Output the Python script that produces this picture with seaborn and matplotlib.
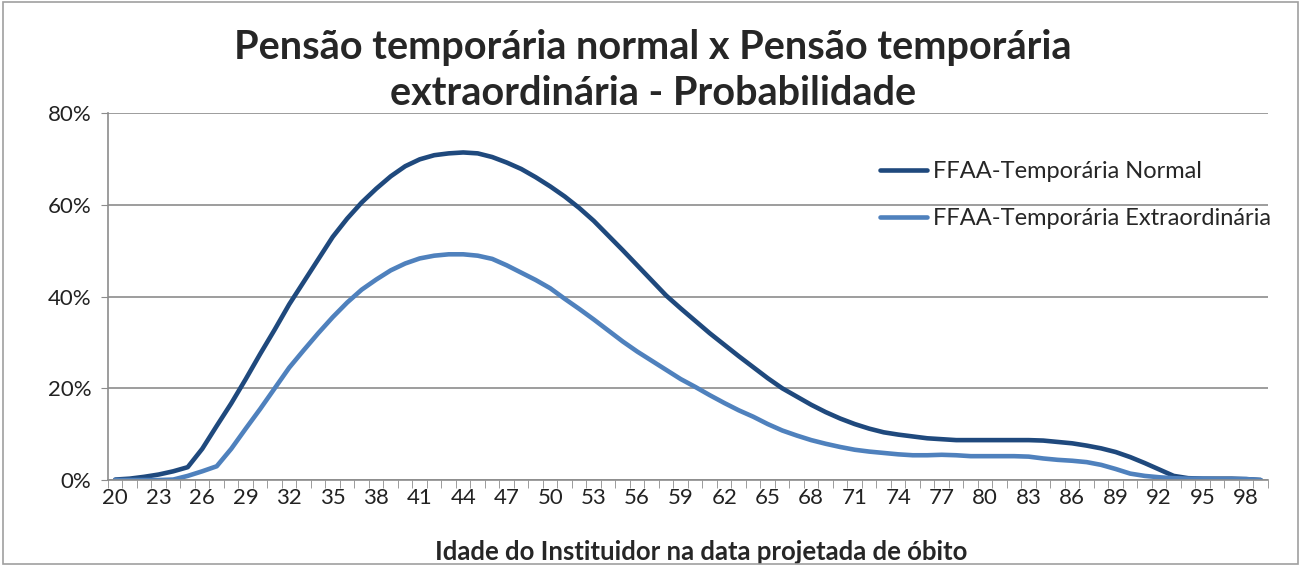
"""
Pensão temporária normal x extraordinária - probability curve by age of death.
"""

import numpy as np
import pandas as pd
import matplotlib
matplotlib.use("Agg")
import matplotlib.pyplot as plt
from matplotlib.patches import Rectangle
from matplotlib.ticker import FuncFormatter
import seaborn as sns

# ─────────────────────────────────────────────
# Data (in %)
# ─────────────────────────────────────────────

ages = list(range(20, 100))

normal = [
    0.1, 0.3, 0.7, 1.2, 1.9, 2.8, 6.8, 11.8, 16.7, 22.0,      # 20-29
    27.5, 32.8, 38.3, 43.2, 48.1, 53.0, 57.0, 60.5, 63.5, 66.2,  # 30-39
    68.4, 69.9, 70.8, 71.2, 71.4, 71.2, 70.4, 69.2, 67.8, 66.0,  # 40-49
    64.0, 61.8, 59.3, 56.5, 53.3, 50.1, 46.8, 43.5, 40.2, 37.4,  # 50-59
    34.7, 32.0, 29.5, 27.0, 24.6, 22.2, 20.0, 18.2, 16.4, 14.8,  # 60-69
    13.4, 12.2, 11.2, 10.4, 9.9, 9.5, 9.1, 8.9, 8.7, 8.7,        # 70-79
    8.7, 8.7, 8.7, 8.7, 8.6, 8.3, 8.0, 7.5, 6.9, 6.1,            # 80-89
    5.0, 3.7, 2.3, 0.9, 0.4, 0.3, 0.3, 0.3, 0.2, 0.0,            # 90-99
]

extra = [
    0.0, 0.0, 0.0, 0.0, 0.1, 0.9, 1.9, 3.0, 6.8, 11.2,           # 20-29
    15.5, 20.0, 24.5, 28.3, 32.0, 35.5, 38.7, 41.5, 43.7, 45.7,  # 30-39
    47.2, 48.3, 48.9, 49.2, 49.2, 48.9, 48.2, 46.8, 45.2, 43.6,  # 40-49
    41.8, 39.5, 37.3, 35.0, 32.6, 30.2, 28.0, 26.0, 24.0, 22.0,  # 50-59
    20.3, 18.5, 16.8, 15.2, 13.8, 12.2, 10.8, 9.7, 8.7, 7.9,     # 60-69
    7.2, 6.6, 6.2, 5.9, 5.6, 5.4, 5.4, 5.5, 5.4, 5.2,            # 70-79
    5.2, 5.2, 5.2, 5.1, 4.7, 4.4, 4.2, 3.9, 3.3, 2.4,            # 80-89
    1.4, 0.9, 0.6, 0.4, 0.3, 0.3, 0.2, 0.2, 0.2, 0.0,            # 90-99
]

series_names = ["FFAA-Temporária Normal", "FFAA-Temporária Extraordinária"]
colors = ["#1F497D", "#4F81BD"]

x_tick_ages = list(range(20, 100, 3))
y_ticks = [0, 20, 40, 60, 80]

title = "Pensão temporária normal x Pensão temporária\nextraordinária - Probabilidade"
x_label = "Idade do Instituidor na data projetada de óbito"

# ─────────────────────────────────────────────
# Plot
# ─────────────────────────────────────────────

sns.set_style("white")
plt.rcParams["font.family"] = ["Lato", "DejaVu Sans"]

df = pd.DataFrame({
    "idade": ages * 2,
    "valor": normal + extra,
    "serie": [series_names[0]] * len(ages) + [series_names[1]] * len(ages),
})

fig = plt.figure(figsize=(13.01, 5.65), dpi=100)
ax = fig.add_axes([0.083, 0.1504, 0.8916, 0.6496])

sns.lineplot(data=df, x="idade", y="valor", hue="serie",
             palette=dict(zip(series_names, colors)), linewidth=3.3,
             solid_capstyle="round", ax=ax)

ax.set_xlim(19.5, 99.5)
ax.set_ylim(0, 80)

grid_c = "#8C8C8C"
ax.set_yticks(y_ticks)
ax.yaxis.set_major_formatter(FuncFormatter(lambda v, _: f"{v:.0f}%"))
ax.yaxis.grid(True, color=grid_c, linewidth=1.2)
ax.set_axisbelow(True)
ax.tick_params(axis="y", length=5, color=grid_c, labelsize=16,
               labelcolor="#222222", pad=7, left=True)

ax.set_xticks(x_tick_ages)
ax.set_xticks(np.arange(19.5, 100, 1), minor=True)
ax.tick_params(axis="x", which="major", length=0, labelsize=16,
               labelcolor="#222222", pad=6)
ax.tick_params(axis="x", which="minor", length=6, color=grid_c, bottom=True)

for side in ["top", "right"]:
    ax.spines[side].set_visible(False)
for side in ["left", "bottom"]:
    ax.spines[side].set_color(grid_c)
    ax.spines[side].set_linewidth(1.2)

ax.set_xlabel(x_label, fontsize=18.5, fontweight="bold")
ax.xaxis.set_label_coords(0.511, -0.196)
ax.xaxis.label.set_va("center")
ax.set_ylabel("")

fig.text(0.502, 0.948, title, ha="center", va="top", fontsize=28.5,
         fontweight="bold", linespacing=1.3)

leg = ax.legend(loc="upper left", bbox_to_anchor=(0.657, 0.895), frameon=False,
                fontsize=17, handlelength=2.0, handletextpad=0.25,
                labelspacing=1.1, borderaxespad=0)
for line in leg.get_lines():
    line.set_linewidth(3.3)

fig.patches.append(Rectangle((0.002, 0.002), 0.996, 0.994, transform=fig.transFigure,
                             fill=False, edgecolor="#A0A0A0", linewidth=1.2))

fig.savefig("out.png", dpi=100)
plt.close(fig)
